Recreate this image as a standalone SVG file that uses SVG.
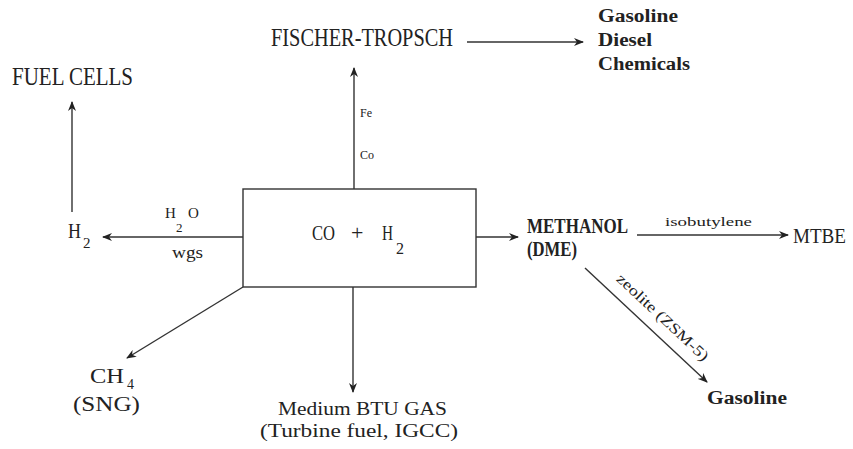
<svg xmlns="http://www.w3.org/2000/svg" width="853" height="449" viewBox="0 0 853 449">
<style>
text{font-family:"Liberation Serif","DejaVu Serif",serif;fill:#222}
.big{font-size:26px}
.mid{font-size:22px}
.sm{font-size:18px}
.xs{font-size:12px}
.bold{font-weight:bold}
.ln{stroke:#333;stroke-width:1.4;fill:none}
</style>
<defs>
<marker id="ah" viewBox="0 0 10 8" refX="9" refY="4" markerWidth="10" markerHeight="8" markerUnits="userSpaceOnUse" orient="auto">
<path d="M0,0 L10,4 L0,8 L3,4 z" fill="#222"/>
</marker>
</defs>
<g id="connectors">
<line class="ln" x1="354" y1="189" x2="354" y2="68" marker-end="url(#ah)"/>
<line class="ln" x1="467" y1="42" x2="583" y2="42" marker-end="url(#ah)"/>
<line class="ln" x1="72" y1="212" x2="72" y2="102" marker-end="url(#ah)"/>
<line class="ln" x1="243" y1="237" x2="103" y2="237" marker-end="url(#ah)"/>
<line class="ln" x1="476" y1="237" x2="518" y2="237" marker-end="url(#ah)"/>
<line class="ln" x1="637" y1="235" x2="788" y2="235" marker-end="url(#ah)"/>
<line class="ln" x1="585" y1="268" x2="707" y2="382" marker-end="url(#ah)"/>
<line class="ln" x1="243" y1="287" x2="127" y2="358" marker-end="url(#ah)"/>
<line class="ln" x1="353" y1="287" x2="353" y2="392" marker-end="url(#ah)"/>
<text class="xs" x="360" y="117">Fe</text>
<text class="xs" x="360" y="159">Co</text>
<text x="165" y="218" style="font-size:15px">H</text>
<text x="176" y="232" style="font-size:13px">2</text>
<text x="188" y="218" style="font-size:15px">O</text>
<text x="172" y="258" style="font-size:16px" textLength="31" lengthAdjust="spacingAndGlyphs">wgs</text>
<text x="665" y="226" style="font-size:13px" textLength="87" lengthAdjust="spacingAndGlyphs">isobutylene</text>
<text transform="translate(662,318) rotate(43)" x="0" y="4" text-anchor="middle" style="font-size:15px" textLength="120" lengthAdjust="spacingAndGlyphs">zeolite (ZSM-5)</text>
</g>
<g id="syngas">
<rect x="243" y="189" width="233" height="98" fill="none" stroke="#333" stroke-width="1.4"/>
<text class="mid" x="312" y="240" textLength="23" lengthAdjust="spacingAndGlyphs">CO</text>
<text class="mid" x="351" y="240">+</text>
<text class="mid" x="382" y="240" textLength="11" lengthAdjust="spacingAndGlyphs">H</text>
<text x="396" y="254" style="font-size:16px">2</text>
</g>
<g id="fischer-tropsch">
<text class="big" x="271" y="46" textLength="182" lengthAdjust="spacingAndGlyphs">FISCHER-TROPSCH</text>
</g>
<g id="ft-products">
<text class="sm bold" x="598" y="22" textLength="80" lengthAdjust="spacingAndGlyphs">Gasoline</text>
<text class="sm bold" x="598" y="46" textLength="54" lengthAdjust="spacingAndGlyphs">Diesel</text>
<text class="sm bold" x="598" y="70" textLength="92" lengthAdjust="spacingAndGlyphs">Chemicals</text>
</g>
<g id="fuel-cells">
<text class="big" x="12" y="85" textLength="121" lengthAdjust="spacingAndGlyphs">FUEL CELLS</text>
</g>
<g id="h2">
<text class="mid" x="68" y="238" textLength="13" lengthAdjust="spacingAndGlyphs">H</text>
<text x="83" y="248" style="font-size:15px">2</text>
</g>
<g id="methanol">
<text class="mid bold" x="527" y="233" textLength="101" lengthAdjust="spacingAndGlyphs">METHANOL</text>
<text class="mid bold" x="527" y="256" textLength="50" lengthAdjust="spacingAndGlyphs">(DME)</text>
</g>
<g id="mtbe">
<text x="793" y="243" style="font-size:21px" textLength="53" lengthAdjust="spacingAndGlyphs">MTBE</text>
</g>
<g id="gasoline">
<text class="sm bold" x="707" y="404" textLength="80" lengthAdjust="spacingAndGlyphs">Gasoline</text>
</g>
<g id="ch4">
<text class="mid" x="90" y="383" textLength="34" lengthAdjust="spacingAndGlyphs">CH</text>
<text x="127" y="389" style="font-size:14px">4</text>
<text class="mid" x="73" y="411" textLength="67" lengthAdjust="spacingAndGlyphs">(SNG)</text>
</g>
<g id="medium-btu">
<text class="sm" x="278" y="415" textLength="169" lengthAdjust="spacingAndGlyphs">Medium BTU GAS</text>
<text class="sm" x="260" y="437" textLength="198" lengthAdjust="spacingAndGlyphs">(Turbine fuel, IGCC)</text>
</g>
</svg>
